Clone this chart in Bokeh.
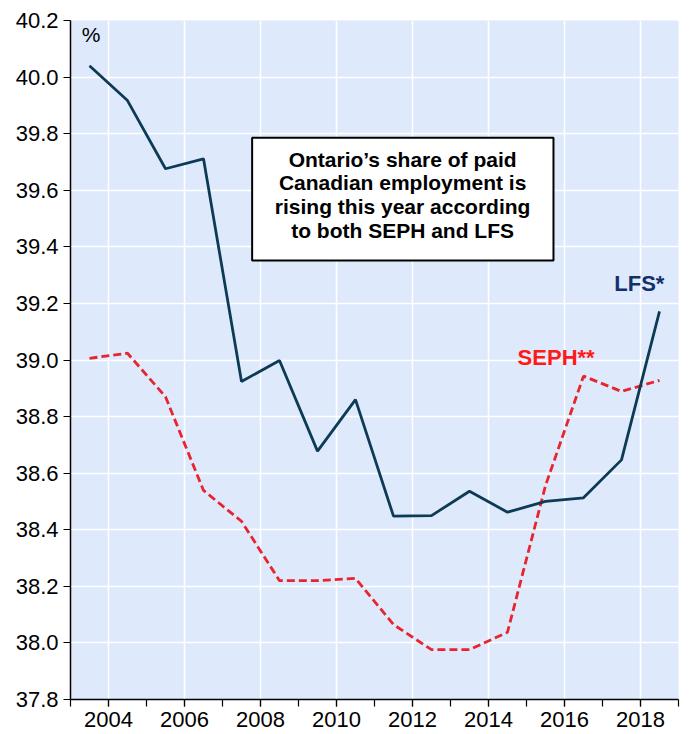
from bokeh.plotting import figure
from bokeh.models import FixedTicker, BoxAnnotation, Range1d, CustomJSTickFormatter
from bokeh.core.properties import value
from bokeh.embed import file_html
from bokeh.resources import INLINE

years = [2003.5, 2004.5, 2005.5, 2006.5, 2007.5, 2008.5, 2009.5, 2010.5,
         2011.5, 2012.5, 2013.5, 2014.5, 2015.5, 2016.5, 2017.5, 2018.5]
lfs = [40.04, 39.917, 39.676, 39.711, 38.924, 38.998, 38.678, 38.86,
       38.448, 38.45, 38.536, 38.462, 38.50, 38.513, 38.647, 39.172]
seph = [39.006, 39.024, 38.87, 38.539, 38.43, 38.22, 38.22, 38.228,
        38.065, 37.976, 37.976, 38.038, 38.556, 38.943, 38.889, 38.928]
x_major = [2004, 2006, 2008, 2010, 2012, 2014, 2016, 2018]
x_minor = list(range(2003, 2020))
y_ticks = [37.8, 38.0, 38.2, 38.4, 38.6, 38.8, 39.0, 39.2, 39.4, 39.6, 39.8, 40.0, 40.2]
note = "Ontario\u2019s share of paid\nCanadian employment is\nrising this year according\nto both SEPH and LFS"

FONT = "Liberation Sans"

p = figure(frame_width=608, frame_height=679, output_backend="svg",
           toolbar_location=None, x_range=Range1d(2003, 2019),
           y_range=Range1d(37.8, 40.2),
           min_border_left=70, min_border_top=20, min_border_right=10,
           min_border_bottom=33, background_fill_color="#deeafb",
           border_fill_color="white", outline_line_color=None)

# axes
p.xaxis.ticker = FixedTicker(ticks=x_major, minor_ticks=x_minor)
p.yaxis.ticker = FixedTicker(ticks=y_ticks, minor_ticks=[])
for ax in (p.xaxis[0], p.yaxis[0]):
    ax.axis_line_color = "black"
    ax.axis_line_width = 1.5
    ax.major_tick_line_color = "black"
    ax.major_tick_line_width = 1.2
    ax.major_tick_in = 0
    ax.major_tick_out = 7
    ax.minor_tick_line_color = "black"
    ax.minor_tick_line_width = 1.2
    ax.minor_tick_in = 0
    ax.minor_tick_out = 7
    ax.major_label_text_font = FONT
    ax.major_label_text_font_size = "22px"
    ax.major_label_text_color = "black"
p.yaxis.major_label_standoff = 5
p.xaxis.major_label_standoff = 5
p.yaxis.formatter = CustomJSTickFormatter(code="return tick.toFixed(1);")

p.xgrid.grid_line_color = "white"
p.xgrid.grid_line_width = 1.5
p.ygrid.grid_line_color = "white"
p.ygrid.grid_line_width = 1.5

# series
p.line(years, seph, line_color="#e8242e", line_width=2.8, line_dash="8 4")
p.line(years, lfs, line_color="#0d3a55", line_width=2.8)

# annotation box (drawn beneath the text)
p.add_layout(BoxAnnotation(left=2007.78, right=2015.71, top=39.786, bottom=39.352,
                           fill_color="white", fill_alpha=1.0, level="underlay",
                           line_color="black", line_width=2, line_alpha=1.0))
p.text(x=[2011.74], y=[39.584], text=[note], text_font=value(FONT),
       text_font_size="21px", text_font_style="bold", text_align="center",
       text_baseline="middle", text_line_height=1.03, text_color="black")

p.text(x=[2017.97], y=[39.27], text=["LFS*"], text_font=value(FONT),
       text_font_size="22px", text_font_style="bold", text_align="center",
       text_baseline="middle", text_color="#14306b")
p.text(x=[2015.78], y=[39.009], text=["SEPH**"], text_font=value(FONT),
       text_font_size="22px", text_font_style="bold", text_align="center",
       text_baseline="middle", text_color="#ff1a1a")
p.text(x=[2003.545], y=[40.152], text=["%"], text_font=value(FONT),
       text_font_size="21px", text_align="center",
       text_baseline="middle", text_color="black")

open("out.html", "w").write(file_html(p, INLINE))
